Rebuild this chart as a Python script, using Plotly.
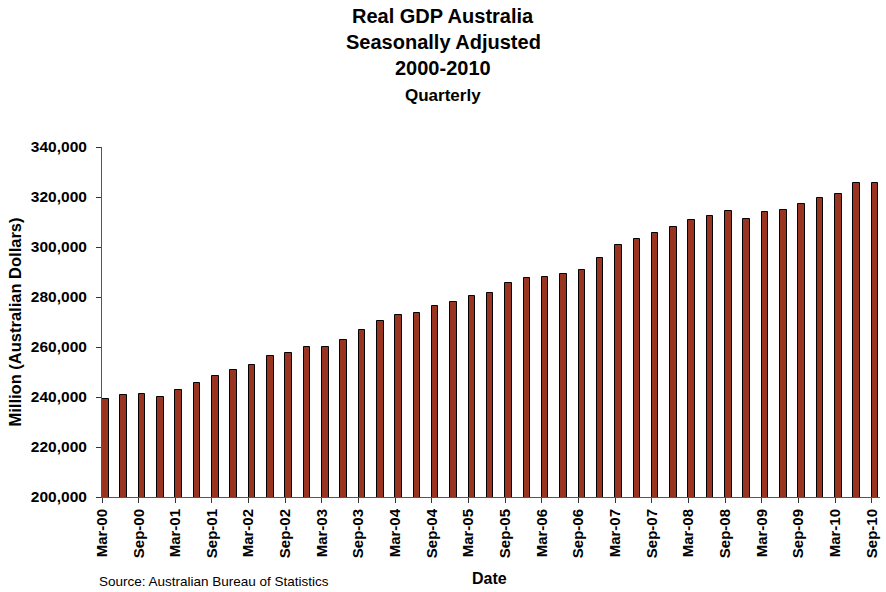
import plotly.graph_objects as go

quarters = ["Mar-00","Jun-00","Sep-00","Dec-00","Mar-01","Jun-01","Sep-01","Dec-01",
            "Mar-02","Jun-02","Sep-02","Dec-02","Mar-03","Jun-03","Sep-03","Dec-03",
            "Mar-04","Jun-04","Sep-04","Dec-04","Mar-05","Jun-05","Sep-05","Dec-05",
            "Mar-06","Jun-06","Sep-06","Dec-06","Mar-07","Jun-07","Sep-07","Dec-07",
            "Mar-08","Jun-08","Sep-08","Dec-08","Mar-09","Jun-09","Sep-09","Dec-09",
            "Mar-10","Jun-10","Sep-10"]
gdp = [239400, 240700, 241300, 240100, 243000, 245500, 248300, 250700,
       252900, 256500, 257700, 260000, 260000, 262900, 266900, 270500,
       272900, 273500, 276400, 278100, 280500, 281600, 285700, 287500,
       288100, 289200, 290900, 295700, 300900, 303300, 305600, 307900,
       310900, 312500, 314400, 311300, 313900, 314900, 317300, 319700,
       321300, 325500, 325500]
y_ticks = [200000, 220000, 240000, 260000, 280000, 300000, 320000, 340000]

idx = list(range(len(quarters)))
tick_idx = [i for i in idx if i % 2 == 0]
tick_txt = [quarters[i] for i in tick_idx]

fig = go.Figure(go.Bar(
    x=idx, y=gdp, width=0.36, offset=0,
    marker=dict(color="#993420", line=dict(color="#000000", width=1)),
))

font = "Liberation Sans, Arial, sans-serif"
fig.update_layout(
    width=886, height=592,
    margin=dict(l=102, r=6, t=147, b=95),
    paper_bgcolor="white", plot_bgcolor="white",
    showlegend=False,
    font=dict(family=font, color="black"),
    bargap=0,
)
fig.update_xaxes(
    range=[0, 42.45], tickmode="array", tickvals=tick_idx, ticktext=tick_txt,
    tickangle=-90, tickfont=dict(size=15, family=font, color="black", weight="bold"),
    showline=True, linecolor="#555555", linewidth=1,
    ticks="outside", ticklen=5, tickcolor="#333333",
    showgrid=False, zeroline=False,
)
fig.update_yaxes(
    range=[200000, 340000], tickmode="array", tickvals=y_ticks,
    ticktext=[f"{v:,}" for v in y_ticks],
    tickfont=dict(size=15.5, family=font, color="black", weight="bold"),
    ticklabelstandoff=6,
    showline=True, linecolor="#555555", linewidth=1,
    ticks="outside", ticklen=5, tickcolor="#333333",
    showgrid=False, zeroline=False,
    title=dict(text="Million (Australian Dollars)", standoff=5,
               font=dict(size=16.5, family=font, color="black", weight="bold")),
)

titles = [("Real GDP Australia", 20, 16), ("Seasonally Adjusted", 20, 42),
          ("2000-2010", 20, 68), ("Quarterly", 17, 95)]
for txt, sz, ypx in titles:
    fig.add_annotation(text=f"<b>{txt}</b>", xref="paper", yref="paper",
                       x=(443 - 102) / 778, y=1 + (147 - ypx) / 350,
                       xanchor="center", yanchor="middle", showarrow=False,
                       font=dict(size=sz, family=font, color="black"))

fig.add_annotation(text="<b>Date</b>", xref="paper", yref="paper",
                   x=(489 - 102) / 778, y=-(578 - 497) / 350,
                   xanchor="center", yanchor="middle", showarrow=False,
                   font=dict(size=16, family=font, color="black"))
fig.add_annotation(text="Source: Australian Bureau of Statistics", xref="paper", yref="paper",
                   x=(97 - 102) / 778, y=-(581 - 497) / 350,
                   xanchor="left", yanchor="middle", showarrow=False,
                   font=dict(size=13.5, family=font, color="black"))

fig.write_html("out.html")
